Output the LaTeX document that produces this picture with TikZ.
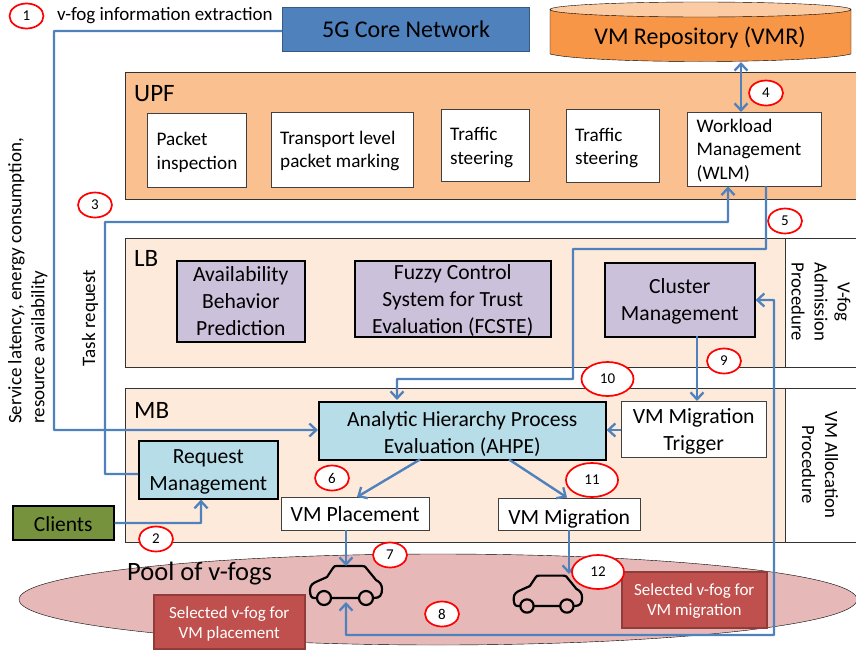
\documentclass[tikz,border=0pt]{standalone}
\usepackage{fontspec}
\setmainfont{Carlito}
\usepackage{tikz}
\usetikzlibrary{arrows.meta,shapes.geometric,calc}
\definecolor{linkblue}{HTML}{4F81BD}
\definecolor{upforange}{HTML}{FAC090}
\definecolor{lightorange}{HTML}{FDEADA}
\definecolor{vmrorange}{HTML}{F79646}
\definecolor{vmrtop}{HTML}{FBCBA3}
\definecolor{lilac}{HTML}{CCC1DA}
\definecolor{paleblue}{HTML}{B7DDE8}
\definecolor{clientgreen}{HTML}{76923C}
\definecolor{poolred}{HTML}{E6B9B8}
\definecolor{selred}{HTML}{C0504D}
\tikzset{>={Straight Barb[length=7pt,width=13pt,line width=2.3pt]}}
\tikzset{
  link/.style={draw=linkblue,line width=2.4pt,rounded corners=0.5pt},
  badge/.style={ellipse,draw=red,line width=1.7pt,fill=white,inner sep=0pt,font=\fontsize{15}{15}\selectfont},
  bigbadge/.style={badge,minimum width=52pt,minimum height=34pt},
  smallbadge/.style={badge,minimum width=34pt,minimum height=25pt},
  plainbox/.style={draw=black!75,fill=white,inner sep=0pt,font=\fontsize{19.2}{23.5}\selectfont},
  widebox/.style={plainbox,font=\fontsize{21.7}{27}\selectfont},
  leftbox/.style={plainbox,align=flush left,text width=#1},
  thickbox/.style={plainbox,line width=1.6pt,draw=black,font=\fontsize{21.6}{27}\selectfont},
  selbox/.style={draw=selred!75!black,line width=1.5pt,fill=selred,text=white,inner sep=0pt,font=\fontsize{17}{20}\selectfont},
  band/.style={draw=black!80,inner sep=0pt},
  sidebox/.style={draw=black!80,fill=white,inner sep=0pt},
  sidetext/.style={rotate=-90,align=center,font=\fontsize{18.7}{23}\selectfont},
  title/.style={anchor=west,inner sep=0pt,font=\fontsize{25}{25}\selectfont},
  note/.style={inner sep=0pt,font=\fontsize{19}{23}\selectfont},
  car/.style={line width=2.2pt,line join=round},
  lowered/.style={execute at begin node={\rule{0pt}{#1}}}
}
% box from two corners given in pixels
\newcommand\boxat[7][]{%
  \node[text width=#6pt-#4pt-4pt,align=flush center,#1,minimum width=#6pt-#4pt,minimum height=#7pt-#5pt,anchor=north west] (#2) at (#4,#5) {#3};}
% car outline, origin at the centre of the left wheel
\newcommand\carshape[2]{%
  \begin{scope}[shift={(#1)},x=#2pt,y=-#2pt,car]
    \draw (0,0) -- (-10,0) .. controls (-13,0) and (-14,-3) .. (-14,-8)
      .. controls (-14,-13) and (-11,-15) .. (-6,-17) -- (3,-21) -- (9,-30)
      .. controls (10,-32) and (11,-32) .. (13,-32) -- (38,-32)
      .. controls (40,-32) and (41,-32) .. (43,-29) -- (52,-18)
      .. controls (56,-16) and (58,-13) .. (58,-9) .. controls (58,-3) and (56,0) .. (50,0) -- (0,0);
    \draw[fill=poolred] (0,0) circle (7);
    \draw[fill=poolred] (42,0) circle (7);
  \end{scope}}

\begin{document}
\begin{tikzpicture}[x=1pt,y=-1pt]
  \useasboundingbox (0,0) rectangle (856,653);

  % bands
  \boxat[band,fill=upforange]{upf}{}{125}{72}{857}{199}
  \boxat[band,fill=lightorange]{lb}{}{125}{238}{785}{367}
  \boxat[band,fill=lightorange]{mb}{}{125}{388}{785}{542}
  \boxat[sidebox]{admbox}{}{785}{238}{857}{367}
  \boxat[sidebox]{allocbox}{}{785}{388}{857}{542}
  \node[sidetext] (admtext) at (821,302) {V-fog\\Admission\\Procedure};
  \node[sidetext] (alloctext) at (820,465) {VM Allocation\\Procedure};
  \node[title] (upflabel) at (134,94) {UPF};
  \node[title] (lblabel) at (134,258) {LB};
  \node[title] (mblabel) at (134,410) {MB};

  % pool
  \node[ellipse,draw=black,fill=poolred,minimum width=838pt,minimum height=91pt,inner sep=0pt] (pool) at (438,599.5) {};
  \node[title,font=\fontsize{26.5}{26.5}\selectfont] (poollabel) at (127,574) {Pool of v-fogs};

  % top row
  \boxat[draw=linkblue!70!black,fill=linkblue,line width=1pt,font=\fontsize{24}{24}\selectfont,inner sep=0pt]{core}{5G Core Network}{282}{7}{529}{51}
  \fill[vmrorange,draw=black] (550,10) -- (550,54) .. controls (590,64) and (811,64) .. (851,54) -- (851,10) -- cycle;
  \fill[vmrtop,draw=black] (700.5,9.5) ellipse (150.5 and 7.5);
  \node[font=\fontsize{24}{24}\selectfont,inner sep=0pt] (vmr) at (700,38) {VM Repository (VMR)};
  \coordinate (vmrb) at (741,62);

  % upf boxes
  \boxat[leftbox=80pt,lowered=18pt]{packet}{Packet\\inspection}{147}{113}{246}{187}
  \boxat[leftbox=124pt,lowered=16pt]{transport}{Transport level\\packet marking}{271}{112}{413}{187}
  \boxat[leftbox=70pt,lowered=18pt]{steerA}{Traffic\\steering}{441}{109}{529}{181}
  \boxat[leftbox=75pt,lowered=18pt]{steerB}{Traffic\\steering}{566}{109}{659}{182}
  \boxat[leftbox=115pt,lowered=16pt]{wlm}{Workload\\Management\\(WLM)}{687}{112}{821}{186}

  % lb boxes
  \boxat[thickbox,fill=lilac]{avail}{Availability\\Behavior\\Prediction}{176}{260}{304}{341}
  \boxat[thickbox,fill=lilac,lowered=19pt]{fcste}{Fuzzy Control\\System for Trust\\Evaluation (FCSTE)}{354}{260}{550}{336}
  \boxat[thickbox,fill=lilac,lowered=19pt]{cluster}{Cluster\\Management}{604}{262}{754}{336}

  % mb boxes
  \boxat[thickbox,fill=paleblue,lowered=22pt]{ahpe}{Analytic Hierarchy Process\\Evaluation (AHPE)}{318}{401}{605}{459}
  \boxat[thickbox,fill=paleblue,lowered=19pt]{request}{Request\\Management}{138}{440}{277}{498}
  \boxat[widebox,lowered=19pt]{trigger}{VM Migration\\Trigger}{621}{401}{766}{457}
  \boxat[widebox]{placement}{VM Placement}{281}{497}{429}{530}
  \boxat[widebox,lowered=25pt]{migration}{VM Migration}{498}{498}{640}{530}
  \boxat[draw=black,line width=1.5pt,fill=clientgreen,inner sep=0pt,font=\fontsize{21.5}{21.5}\selectfont,lowered=18pt]{clients}{Clients}{12}{505}{113}{539}

  % selected v-fogs
  \boxat[selbox,lowered=15.5pt]{selA}{Selected v-fog for\\VM placement}{153}{594}{304}{648}
  \boxat[selbox,lowered=14.5pt]{selB}{Selected v-fog for\\VM migration}{621}{571}{766}{627}

  % cars
  \carshape{324,598}{1}
  \carshape{527,606}{0.95}
  \coordinate (carAtop) at (346,566);
  \coordinate (carAbot) at (346,602);
  \coordinate (carBtop) at (569,574);

  % connectors
  \draw[link,->] (core.west |- 0,31) -- (54,31) -- (54,430) -- (ahpe.west |- 0,430);
  \draw[link,->] (request.west |- 0,474) -- (105,474) -- (105,222) -- (728,222) -- (wlm.south -| 728,0);
  \draw[link,<->] (vmrb) -- (741,112);
  \draw[link,->] (wlm.south -| 766,0) -- (766,249) -- (573,249) -- (573,379) -- (397,379) -- (397,400);
  \draw[link,->] (clients.east |- 0,523) -- (201,523) -- (request.south -| 201,0);
  \draw[link,->] (697,336) -- (697,401);
  \draw[link,->] (trigger.west |- 0,430) -- (ahpe.east |- 0,430);
  \draw[link,->] (420,459.5) -- (357,497);
  \draw[link,->] (509,459.5) -- (567,497.5);
  \draw[link,->] (346,530) -- (carAtop);
  \draw[link,->] (569,530) -- (carBtop);
  \draw[link,<->] (cluster.east |- 0,300) -- (774,300) -- (774,635) -- (346,635) -- (carAbot);

  % numbers
  \node[smallbadge] (n1) at (26.5,16) {1};
  \node[smallbadge] (n2) at (156,539) {2};
  \node[smallbadge] (n3) at (95,205) {3};
  \node[smallbadge] (n4) at (766,93) {4};
  \node[smallbadge] (n5) at (785,221) {5};
  \node[smallbadge] (n6) at (332,478) {6};
  \node[smallbadge] (n7) at (390,555) {7};
  \node[smallbadge] (n8) at (442,614) {8};
  \node[smallbadge] (n9) at (724,361) {9};
  \node[bigbadge] (n10) at (607.5,379) {10};
  \node[bigbadge] (n11) at (592,480) {11};
  \node[bigbadge] (n12) at (598,572) {12};

  % side notes
  \node[note,anchor=west] (extract) at (57,16) {v-fog information extraction};
  \node[note,rotate=90] (taskreq) at (90,318) {Task request};
  \node[note,rotate=90,anchor=north west,align=left] (service) at (8,424) {Service latency, energy consumption,\\resource availability};
\end{tikzpicture}
\end{document}
